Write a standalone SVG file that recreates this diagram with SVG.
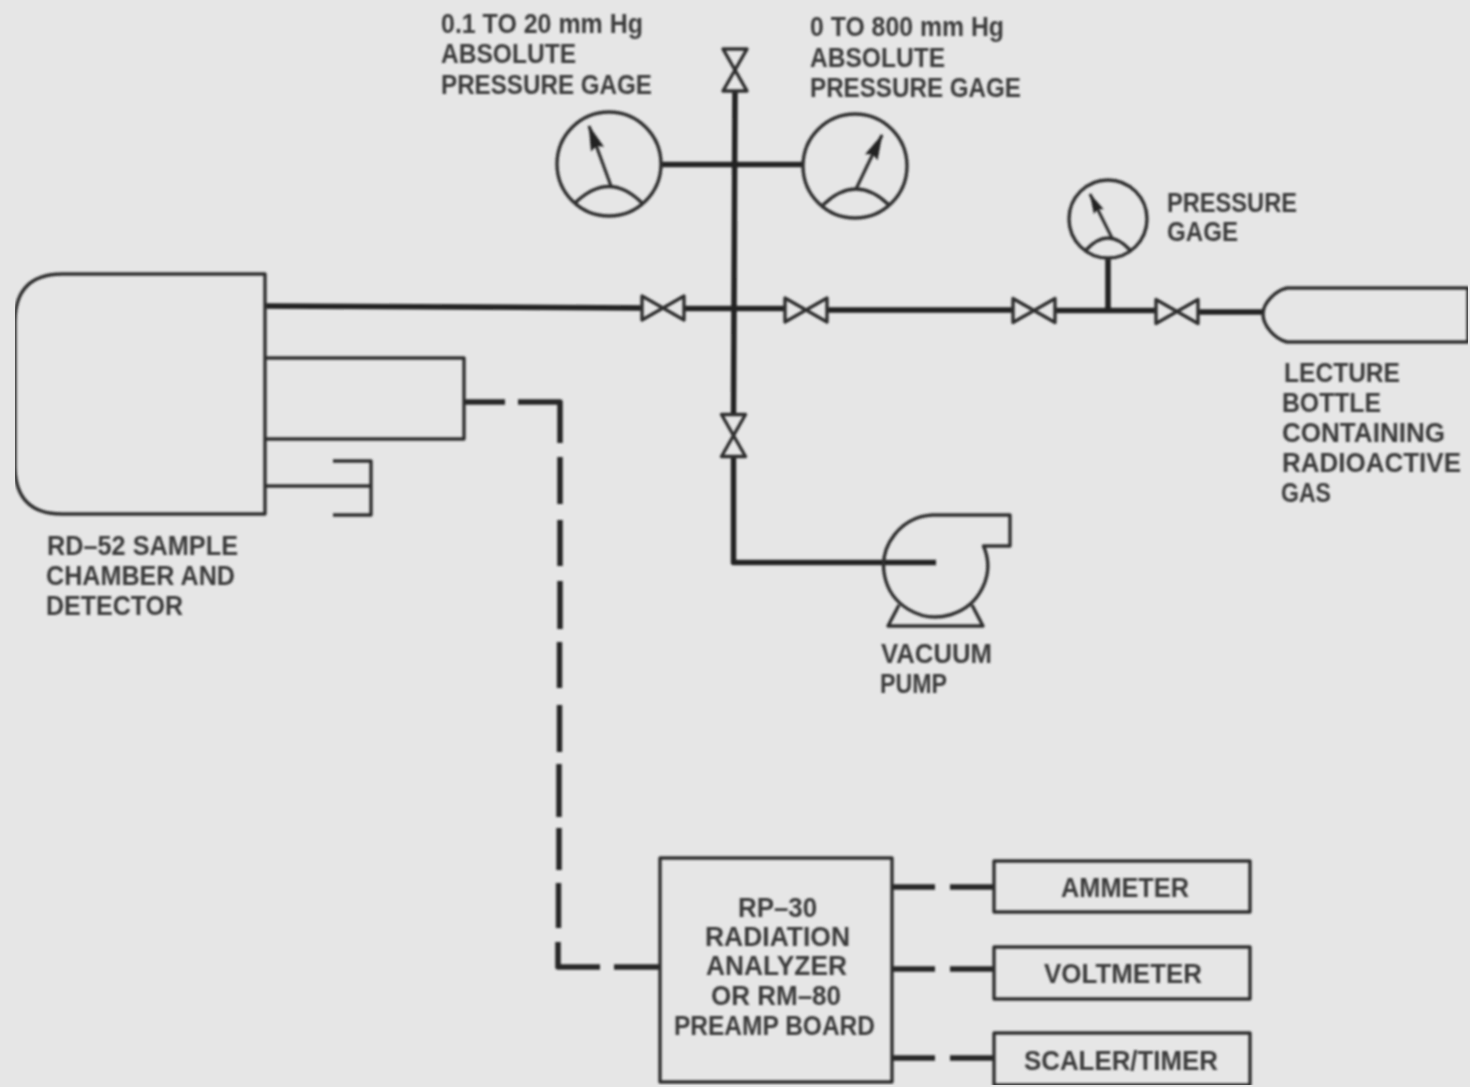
<svg xmlns="http://www.w3.org/2000/svg" width="1470" height="1087" viewBox="0 0 1470 1087">
<style>
text{font-family:"Liberation Sans",Arial,sans-serif;font-weight:700;font-size:27px;fill:#3a3a3a}
.t{fill:none;stroke:#2e2e2e;stroke-width:3.4;stroke-linejoin:round}
.p{fill:none;stroke:#222;stroke-width:5.5;stroke-linejoin:round}
.d{fill:none;stroke:#262626;stroke-width:5.5;stroke-linejoin:round}
.n{fill:none;stroke:#2e2e2e;stroke-width:3.2;marker-end:url(#ah)}
.ns{fill:none;stroke:#2e2e2e;stroke-width:3;marker-end:url(#ahs)}
</style>
<defs>
<filter id="soft" x="0" y="0" width="100%" height="100%"><feGaussianBlur stdDeviation="0.8"/></filter>
<marker id="ah" viewBox="0 0 24 14" refX="23" refY="7" markerWidth="26" markerHeight="15" markerUnits="userSpaceOnUse" orient="auto"><path d="M0 0.500L24 7L0 13.500L3 7Z" fill="#222"/></marker>
<marker id="ahs" viewBox="0 0 24 14" refX="23" refY="7" markerWidth="22" markerHeight="12" markerUnits="userSpaceOnUse" orient="auto"><path d="M0 0.500L24 7L0 13.500L3 7Z" fill="#222"/></marker>
<g id="valve"><path class="t" d="M-21 -12L0 0L-21 12Z M21 -12L0 0L21 12Z"/></g>
</defs>
<rect width="1470" height="1087" fill="#e6e6e6"/>
<g filter="url(#soft)">
<g id="connectors">
<path class="p" d="M265 306L642 308M684 308.500H785M827 310H1013M1055 310.500H1156M1199 312H1263"/>
<path class="p" d="M735 90L733.500 415M733.500 456V562.500H936"/>
<path class="p" d="M661 164.500H803"/>
<path class="p" d="M1108 258V310"/>
<path class="d" d="M464 402H505M518 402H560V443M560 457V504M560 520V566M560 581V629M559.500 642V688M559.500 705V752M559 764V817M559 828V870M558.500 883V928M558 942V967H600M614 967H660"/>
<path class="d" d="M893 887H935M950 887H994M893 969H935M950 969H994M893 1058H935M950 1058H994"/>
</g>
<g id="valve-1"><use href="#valve" transform="translate(663 308)"/></g>
<g id="valve-2"><use href="#valve" transform="translate(806 310)"/></g>
<g id="valve-3"><use href="#valve" transform="translate(1034 310.500)"/></g>
<g id="valve-4"><use href="#valve" transform="translate(1177 311.500)"/></g>
<g id="valve-top"><use href="#valve" transform="translate(735 70) rotate(90)"/></g>
<g id="valve-pump"><use href="#valve" transform="translate(733.500 435.500) rotate(90)"/></g>
<g id="sample-chamber">
<path class="t" d="M265 274H62Q15 274 15 322V466Q15 514 62 514H265Z"/>
<path class="t" d="M265 358H464V439H265"/>
<path class="t" d="M265 486H371M333 461H371V515H333"/>
<text x="47" y="555" textLength="191" lengthAdjust="spacingAndGlyphs">RD–52 SAMPLE</text>
<text x="46" y="585" textLength="189" lengthAdjust="spacingAndGlyphs">CHAMBER AND</text>
<text x="46" y="615" textLength="137" lengthAdjust="spacingAndGlyphs">DETECTOR</text>
</g>
<g id="gage-low">
<circle class="t" cx="609" cy="164" r="52"/>
<path class="t" d="M575 203Q609 170 642 203"/>
<line class="n" x1="611" y1="186" x2="589" y2="126"/>
<text x="441" y="33" textLength="202" lengthAdjust="spacingAndGlyphs">0.1 TO 20 mm Hg</text>
<text x="441" y="63" textLength="135" lengthAdjust="spacingAndGlyphs">ABSOLUTE</text>
<text x="441" y="94" textLength="211" lengthAdjust="spacingAndGlyphs">PRESSURE GAGE</text>
</g>
<g id="gage-high">
<circle class="t" cx="855" cy="166" r="52"/>
<path class="t" d="M823 205Q856 173 889 205"/>
<line class="n" x1="856" y1="189" x2="882" y2="135"/>
<text x="810" y="36" textLength="194" lengthAdjust="spacingAndGlyphs">0 TO 800 mm Hg</text>
<text x="810" y="67" textLength="135" lengthAdjust="spacingAndGlyphs">ABSOLUTE</text>
<text x="810" y="97" textLength="211" lengthAdjust="spacingAndGlyphs">PRESSURE GAGE</text>
</g>
<g id="gage-supply">
<circle class="t" cx="1108" cy="219" r="39"/>
<path class="t" d="M1086 250Q1108 226 1130 250"/>
<line class="ns" x1="1112" y1="238" x2="1090" y2="194"/>
<text x="1167" y="212" textLength="130" lengthAdjust="spacingAndGlyphs">PRESSURE</text>
<text x="1167" y="241" textLength="71" lengthAdjust="spacingAndGlyphs">GAGE</text>
</g>
<g id="lecture-bottle">
<path class="t" d="M1287 288H1468V342H1287C1275 339 1263 326 1263 314C1263 303 1275 291 1287 288Z"/>
<text x="1284" y="382" textLength="116" lengthAdjust="spacingAndGlyphs">LECTURE</text>
<text x="1282" y="412" textLength="99" lengthAdjust="spacingAndGlyphs">BOTTLE</text>
<text x="1282" y="442" textLength="163" lengthAdjust="spacingAndGlyphs">CONTAINING</text>
<text x="1282" y="472" textLength="179" lengthAdjust="spacingAndGlyphs">RADIOACTIVE</text>
<text x="1281" y="502" textLength="50" lengthAdjust="spacingAndGlyphs">GAS</text>
</g>
<g id="vacuum-pump">
<path class="t" d="M1010 515H932A52 51 0 1 0 983.500 546H1010Z"/>
<path class="t" d="M899 605L888 626H983L972 605"/>
<text x="881" y="663" textLength="111" lengthAdjust="spacingAndGlyphs">VACUUM</text>
<text x="880" y="693" textLength="67" lengthAdjust="spacingAndGlyphs">PUMP</text>
</g>
<g id="analyzer">
<rect class="t" x="660" y="858" width="232" height="224"/>
<text x="738" y="917" textLength="79" lengthAdjust="spacingAndGlyphs">RP–30</text>
<text x="705" y="946" textLength="145" lengthAdjust="spacingAndGlyphs">RADIATION</text>
<text x="706" y="975" textLength="141" lengthAdjust="spacingAndGlyphs">ANALYZER</text>
<text x="711" y="1005" textLength="130" lengthAdjust="spacingAndGlyphs">OR RM–80</text>
<text x="674" y="1035" textLength="201" lengthAdjust="spacingAndGlyphs">PREAMP BOARD</text>
</g>
<g id="ammeter">
<rect class="t" x="994" y="861" width="256" height="51"/>
<text x="1061" y="897" textLength="128" lengthAdjust="spacingAndGlyphs">AMMETER</text>
</g>
<g id="voltmeter">
<rect class="t" x="994" y="947" width="256" height="52"/>
<text x="1044" y="983" textLength="158" lengthAdjust="spacingAndGlyphs">VOLTMETER</text>
</g>
<g id="scaler-timer">
<rect class="t" x="994" y="1033" width="256" height="52"/>
<text x="1024" y="1070" textLength="194" lengthAdjust="spacingAndGlyphs">SCALER/TIMER</text>
</g>
</g>
</svg>
